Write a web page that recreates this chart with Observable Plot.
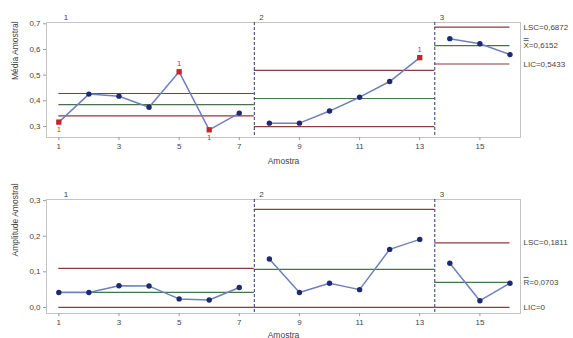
<!DOCTYPE html>
<html><head><meta charset="utf-8">
<script src="https://cdn.jsdelivr.net/npm/d3@7"></script>
<script src="https://cdn.jsdelivr.net/npm/@observablehq/plot@0.6"></script>
<style>body{margin:0;background:#fff;} #chart svg{display:block;}</style>
</head><body><div id="chart"></div>
<script>
// ---- data ----
const samples = [1,2,3,4,5,6,7,8,9,10,11,12,13,14,15,16];
const stages  = [1,1,1,1,1,1,1,2,2,2,2,2,2,3,3,3];
const stageNames = ["1","2","3"];
const sampleMeans  = [0.317,0.426,0.418,0.375,0.513,0.287,0.352,0.313,0.313,0.360,0.414,0.475,0.568,0.642,0.622,0.580];
const sampleRanges = [0.042,0.042,0.061,0.060,0.024,0.021,0.056,0.136,0.042,0.068,0.050,0.163,0.191,0.124,0.019,0.068];
const meanFlags  = [1,0,0,0,1,1,0,0,0,0,0,0,1,0,0,0];
const rangeFlags = [0,0,0,0,0,0,0,0,0,0,0,0,0,0,0,0];
const meanUCL = [0.4285, 0.5185, 0.6872];
const meanCL  = [0.3850, 0.4090, 0.6152];
const meanLCL = [0.3415, 0.2995, 0.5433];
const rangeUCL = [0.1094, 0.2754, 0.1811];
const rangeCL  = [0.0425, 0.1070, 0.0703];
const rangeLCL = [0, 0, 0];
const meanTicks  = [0.3,0.4,0.5,0.6,0.7];
const rangeTicks = [0.0,0.1,0.2,0.3];
const sampleTicks = [1,3,5,7,9,11,13,15];

// ---- derived ----
const stageIds = [...new Set(stages)];
const spans = stageIds.map((s, i) => {
  const xs = samples.filter((_, j) => stages[j] === s);
  const prev = i > 0 ? samples.filter((_, j) => stages[j] === stageIds[i-1]) : null;
  const next = i < stageIds.length - 1 ? samples.filter((_, j) => stages[j] === stageIds[i+1]) : null;
  return {
    name: stageNames[i],
    x1: prev ? (d3.max(prev) + d3.min(xs)) / 2 : d3.min(xs),
    x2: next ? (d3.max(xs) + d3.min(next)) / 2 : d3.max(xs)
  };
});
const boundaries = spans.slice(1).map(s => s.x1);
const fmt = v => v === 0 ? "0" : v.toFixed(4).replace(".", ",");
const fmt1 = v => v.toFixed(1).replace(".", ",");

const LIMIT = "#8a3c3c", CENTER = "#467446", LINE = "#6f80bd", DOT = "#1d2a6e", RED = "#c8232b";
const FONT = "'Liberation Sans', Arial, sans-serif";
const W = 573, ML = 46, MR = 53;

function panel(o) {
  const rows = samples.map((x, i) => ({x, y: o.values[i], stage: stages[i], flag: o.flags[i],
    above: o.values[i] > o.cl[stageIds.indexOf(stages[i])]}));
  const limits = [];
  spans.forEach((s, i) => {
    limits.push({x1: s.x1, x2: s.x2, y: o.ucl[i], c: LIMIT});
    limits.push({x1: s.x1, x2: s.x2, y: o.cl[i], c: CENTER});
    limits.push({x1: s.x1, x2: s.x2, y: o.lcl[i], c: LIMIT});
  });
  const k = spans.length - 1;
  const rightLabels = [
    {y: o.ucl[k], t: "LSC=" + fmt(o.ucl[k])},
    {y: o.cl[k], t: o.clSym + "=" + fmt(o.cl[k])},
    {y: o.lcl[k], t: "LIC=" + fmt(o.lcl[k])}
  ];
  const flagged = rows.filter(d => d.flag);
  const frameW = W - ML - MR;
  // overline(s) above the statistic symbol, just right of the frame
  const barMarks = o.barDy.map(dy => Plot.ruleY([o.cl[k]], {
    insetLeft: frameW + 3.6, insetRight: -8.6, dy, stroke: "#444", strokeWidth: 0.8
  }));
  return Plot.plot({
    width: W, height: o.height,
    marginLeft: ML, marginRight: MR, marginTop: o.marginTop, marginBottom: o.marginBottom,
    style: {fontFamily: FONT, fontSize: "8px", color: "#444", background: "#fff"},
    x: {domain: [0.59, 16.35]},
    y: {domain: o.yDomain},
    marks: [
      Plot.frame({stroke: "#c4c4c4"}),
      Plot.ruleY(limits, {y: "y", x1: "x1", x2: "x2", stroke: "c", strokeWidth: 1.2}),
      Plot.ruleX(boundaries, {stroke: "#2a3878", strokeDasharray: "3,2", strokeWidth: 1}),
      Plot.line(rows, {x: "x", y: "y", z: "stage", stroke: LINE, strokeWidth: 1.5}),
      Plot.dot(rows.filter(d => !d.flag), {x: "x", y: "y", r: 2.7, fill: DOT, stroke: "none"}),
      Plot.dot(flagged, {x: "x", y: "y", r: 3, symbol: "square", fill: RED, stroke: "none"}),
      Plot.text(flagged.filter(d => d.above), {x: "x", y: "y", text: () => "1", fill: RED, fontSize: 7, dy: -8}),
      Plot.text(flagged.filter(d => !d.above), {x: "x", y: "y", text: () => "1", fill: RED, fontSize: 7, dy: 8}),
      Plot.text(spans, {x: "x1", text: "name", frameAnchor: "top", dy: -8, dx: 5, textAnchor: "start", fill: "#444"}),
      Plot.text(rightLabels, {y: "y", text: "t", frameAnchor: "right", textAnchor: "start", dx: 3, fill: "#444"}),
      ...barMarks,
      Plot.axisX({ticks: sampleTicks, tickSize: 3, tickPadding: 3, label: null, stroke: "#999"}),
      Plot.axisY({ticks: o.yTicks, tickSize: 3, tickPadding: 3, label: null, tickFormat: fmt1, stroke: "#999"}),
      Plot.text([o.yLabel], {text: d => d, frameAnchor: "left", rotate: -90, dx: -31, fill: "#444", fontSize: 8.5}),
      Plot.text(["Amostra"], {text: d => d, frameAnchor: "bottom", dy: o.xLabelDy, fill: "#444", fontSize: 8.5})
    ]
  });
}

const meanChart = panel({
  values: sampleMeans, flags: meanFlags, ucl: meanUCL, cl: meanCL, lcl: meanLCL,
  yDomain: [0.257, 0.705], yTicks: meanTicks, height: 170, marginTop: 22, marginBottom: 33,
  yLabel: "Média Amostral", clSym: "X", barDy: [-5, -7], xLabelDy: 26
});
const rangeChart = panel({
  values: sampleRanges, flags: rangeFlags, ucl: rangeUCL, cl: rangeCL, lcl: rangeLCL,
  yDomain: [-0.017, 0.303], yTicks: rangeTicks, height: 168, marginTop: 29, marginBottom: 25,
  yLabel: "Amplitude Amostral", clSym: "R", barDy: [-5], xLabelDy: 24
});
document.getElementById("chart").append(meanChart, rangeChart);
</script>
</body></html>
